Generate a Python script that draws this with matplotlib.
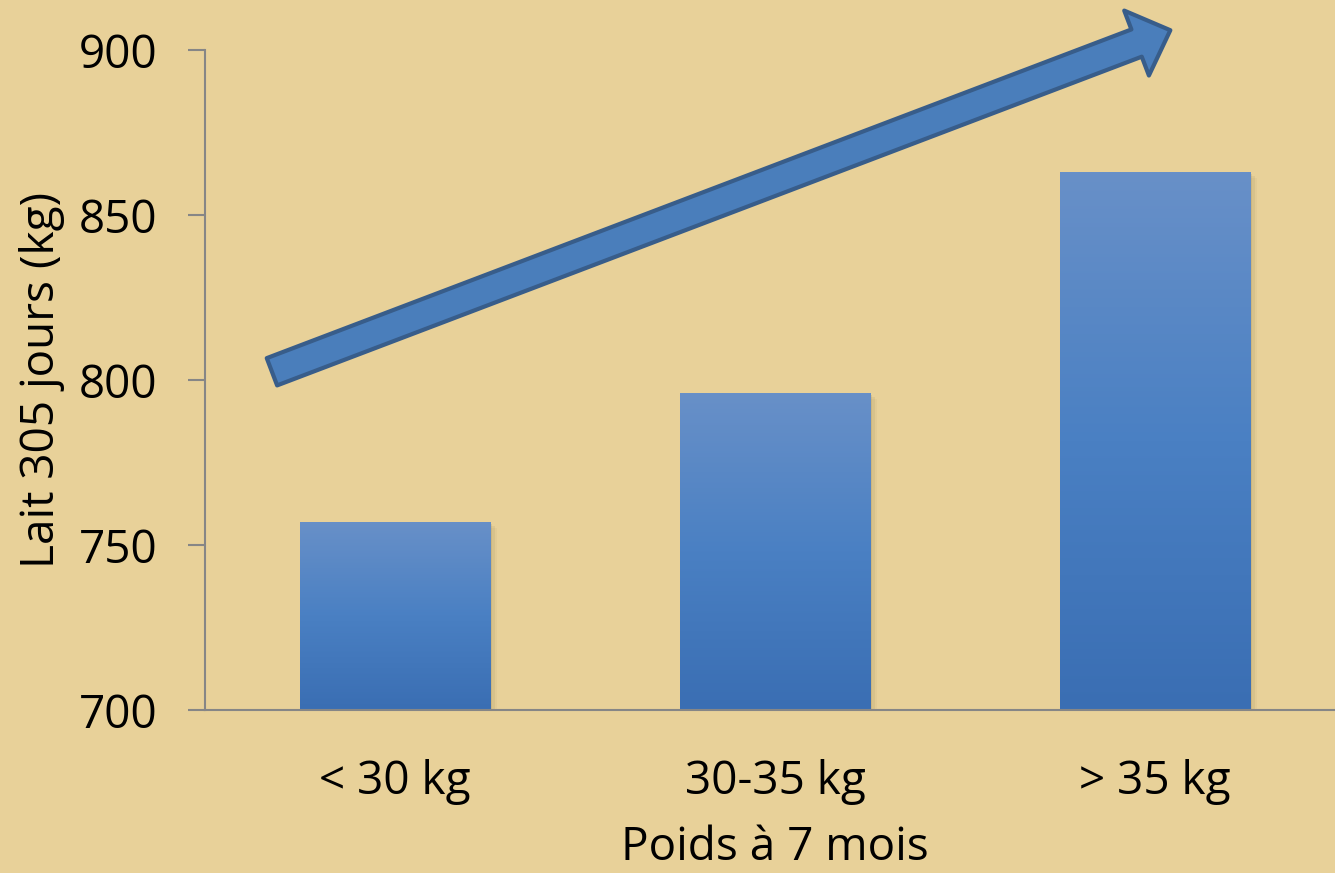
import numpy as np
import matplotlib
matplotlib.use('Agg')
import matplotlib.pyplot as plt
from matplotlib.patches import FancyArrowPatch, Rectangle
from matplotlib.colors import LinearSegmentedColormap

categories = ['< 30 kg', '30-35 kg', '> 35 kg']
lait = [757, 796, 863]
yticks = [700, 750, 800, 850, 900]

plt.rcParams['font.family'] = ['Open Sans', 'DejaVu Sans']

bg = '#E8D199'
fig = plt.figure(figsize=(13.35, 8.73), dpi=100, facecolor=bg)
ax = fig.add_axes([0.1536, 0.1867, 0.854, 0.756]) # axes run a little past the right edge, like the original
ax.set_facecolor('none')

x = np.arange(len(categories))
bars = ax.bar(x, lait, width=0.5, bottom=0, color='#4F81BD', zorder=3)

# gradient fill + soft shadow on each bar
grad = LinearSegmentedColormap.from_list('g', ['#3A6EB3', '#4A80C3', '#6890C8'])
img = np.linspace(0, 1, 256).reshape(-1, 1)
for b in bars:
    x0, w, h = b.get_x(), b.get_width(), b.get_height()
    for i, a in enumerate([0.10, 0.07, 0.04]):
        ax.add_patch(Rectangle((x0 + 0.006 * (i + 1), 700 - 0.6 * (i + 1)), w, h - 700,
                               facecolor='#5a4a20', alpha=a, lw=0, zorder=2))
    im = ax.imshow(img, cmap=grad, origin='lower', aspect='auto',
                   extent=[x0, x0 + w, 700, h], zorder=3.5)
    im.set_clip_path(b)

ax.set_xlim(-0.5, 2.5)
ax.set_ylim(700, 900)
ax.set_yticks(yticks)
ax.set_xticks(x)
ax.set_xticklabels(categories)

for s in ['top', 'right']:
    ax.spines[s].set_visible(False)
for s in ['left', 'bottom']:
    ax.spines[s].set_color('#868686')
    ax.spines[s].set_linewidth(1.5)
    ax.spines[s].set_zorder(4)

ax.tick_params(axis='y', direction='out', length=12, width=1.5, color='#868686',
               labelsize=33, pad=22)
ax.tick_params(axis='x', length=0, labelsize=33, pad=35)

ax.set_xlabel('Poids à 7 mois', fontsize=33, labelpad=15)
ax.set_ylabel('Lait 305 jours (kg)', fontsize=33, labelpad=10)

# trend arrow
arr = FancyArrowPatch((-0.324, 802.5), (2.04, 906),
                      arrowstyle='simple,head_width=50,head_length=26,tail_width=21',
                      mutation_scale=1, shrinkA=0, shrinkB=0,
                      facecolor='#4A7EBB', edgecolor='#385D8A', linewidth=3,
                      clip_on=False, zorder=6)
ax.add_patch(arr)

fig.savefig('out.png', dpi=100, facecolor=bg)
